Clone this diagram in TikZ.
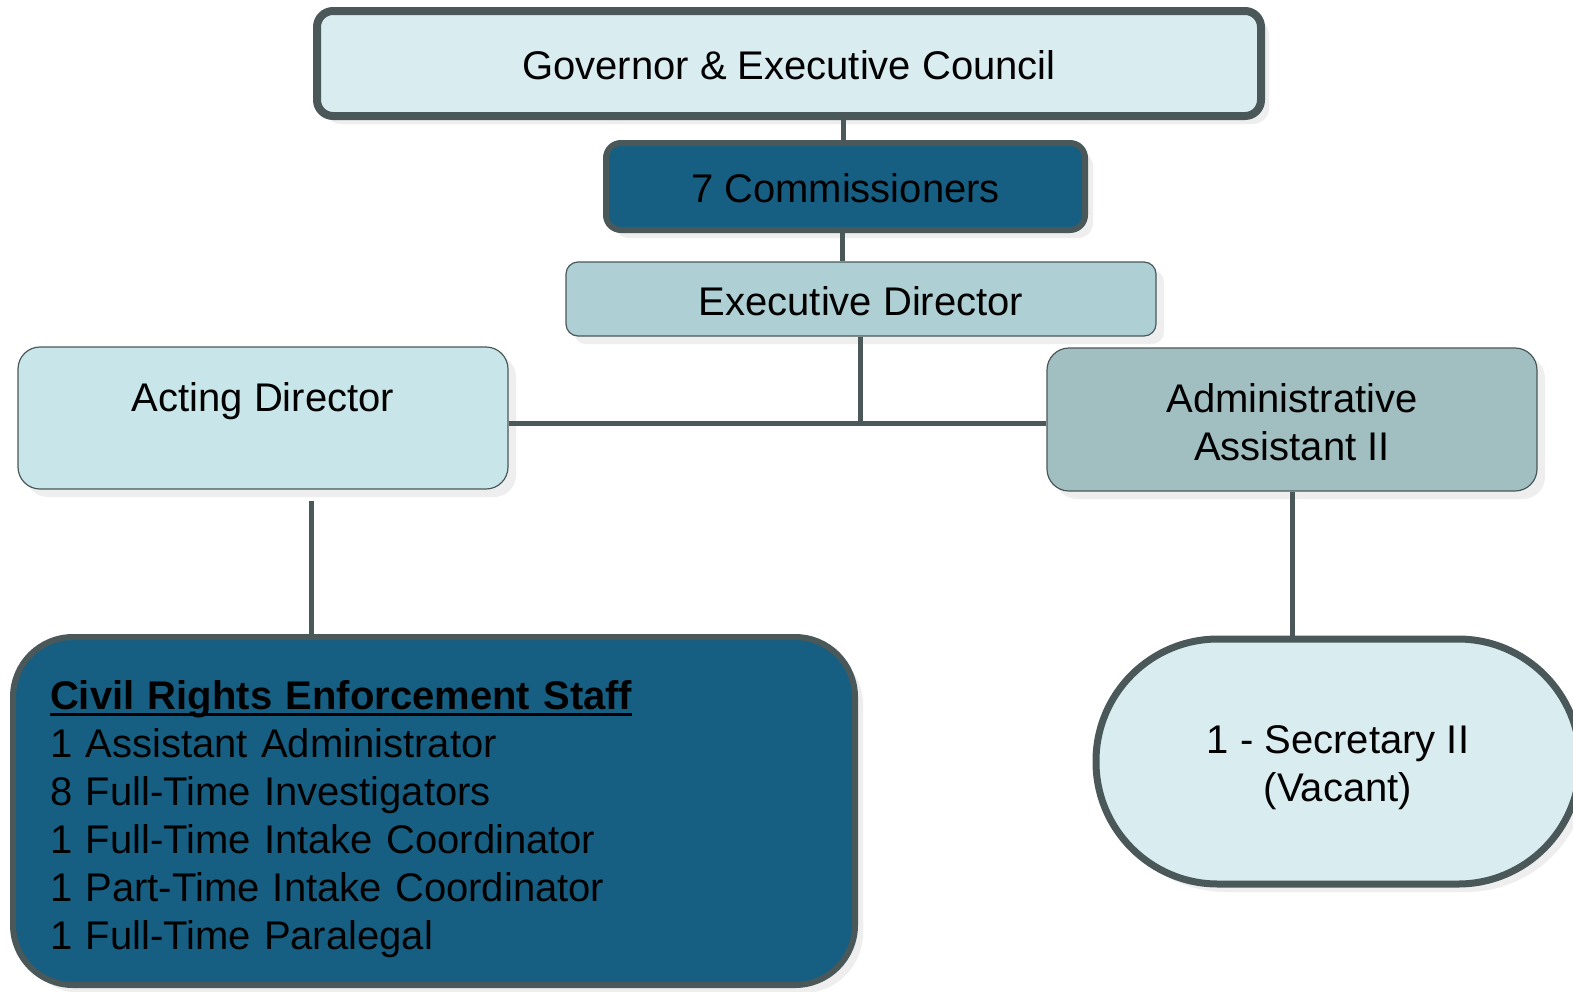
\documentclass[tikz,border=0pt]{standalone}
\usepackage{fontspec}
\setmainfont{Liberation Sans}
\usetikzlibrary{shadows}
\definecolor{edge}{HTML}{4A5859}
\definecolor{lightfill}{HTML}{D9ECEF}
\definecolor{darkblue}{HTML}{175F82}
\definecolor{execfill}{HTML}{AECFD3}
\definecolor{actfill}{HTML}{C8E6E9}
\definecolor{admfill}{HTML}{A1BFC1}
\definecolor{shadowgray}{HTML}{EEEEEE}
\newcommand\myul[1]{\leavevmode\vtop{\hbox{#1}\kern-5pt\hrule height 3.5pt}}
\tikzset{
  box/.style={draw=edge, rectangle, inner sep=0pt, align=center,
    drop shadow={shadow xshift=8pt, shadow yshift=-8pt, fill=shadowgray, opacity=1}},
  thickbox/.style={box, line width=#1},
  thinbox/.style={box, line width=1.2pt},
  conn/.style={draw=edge, line width=5pt},
  lbl/.style={font=\fontsize{40}{48}\selectfont, inner sep=0pt, align=center}
}
\begin{document}
\begin{tikzpicture}[x=1pt,y=-1pt]
\useasboundingbox[fill=white] (0,0) rectangle (1573,991);
% nodes
\node[thickbox=8pt, fill=lightfill, rounded corners=16pt, minimum width=944pt, minimum height=105pt,
  label={[lbl, yshift=-2pt]center:Governor \& Executive Council}] (gov) at (789,63.5) {};
\node[thickbox=6pt, fill=darkblue, rounded corners=15pt, minimum width=479pt, minimum height=87pt,
  label={[lbl, yshift=-2pt]center:7 Commissioners}] (comm) at (845.5,186.5) {};
\node[thinbox, fill=execfill, rounded corners=12pt, minimum width=590pt, minimum height=74pt,
  label={[lbl, yshift=-2pt]center:Executive Director}] (exec) at (861,299) {};
\node[thinbox, fill=actfill, rounded corners=22pt, minimum width=490pt, minimum height=142pt,
  label={[lbl, yshift=17pt]center:Acting Director}] (act) at (263,418) {};
\node[thinbox, fill=admfill, rounded corners=22pt, minimum width=490pt, minimum height=143pt,
  label={[lbl, yshift=-3pt]center:Administrative\\Assistant II}] (adm) at (1292,419.5) {};
\node[thickbox=6pt, fill=darkblue, rounded corners=60pt, minimum width=842pt, minimum height=348pt,
  label={[lbl, yshift=-8pt, text width=768pt, align=left]center:\myul{\textbf{Civil Rights Enforcement Staff}}\\1 Assistant Administrator\\8 Full-Time Investigators\\1 Full-Time Intake Coordinator\\1 Part-Time Intake Coordinator\\1 Full-Time Paralegal}] (civ) at (434,811) {};
\node[thickbox=7pt, fill=lightfill, rounded corners=122pt, minimum width=484pt, minimum height=245pt,
  label={[lbl, yshift=-6pt]center:1 - Secretary II\\(Vacant)}] (sec) at (1338,761.5) {};
% connectors
\draw[conn] (gov.south -| 843,0) -- (comm.north -| 843,0);
\draw[conn] (comm.south -| 842,0) -- (exec.north -| 842,0);
\coordinate (junc) at (860,423);
\draw[conn] (exec.south -| junc) -- (junc);
\draw[conn] (act.east |- junc) -- (adm.west |- junc);
\draw[conn] ([xshift=48pt, yshift=-11pt]act.south) -- ([xshift=48pt]act.south |- civ.north);
\draw[conn] (adm.south) -- (adm.south |- sec.north);
\end{tikzpicture}
\end{document}
